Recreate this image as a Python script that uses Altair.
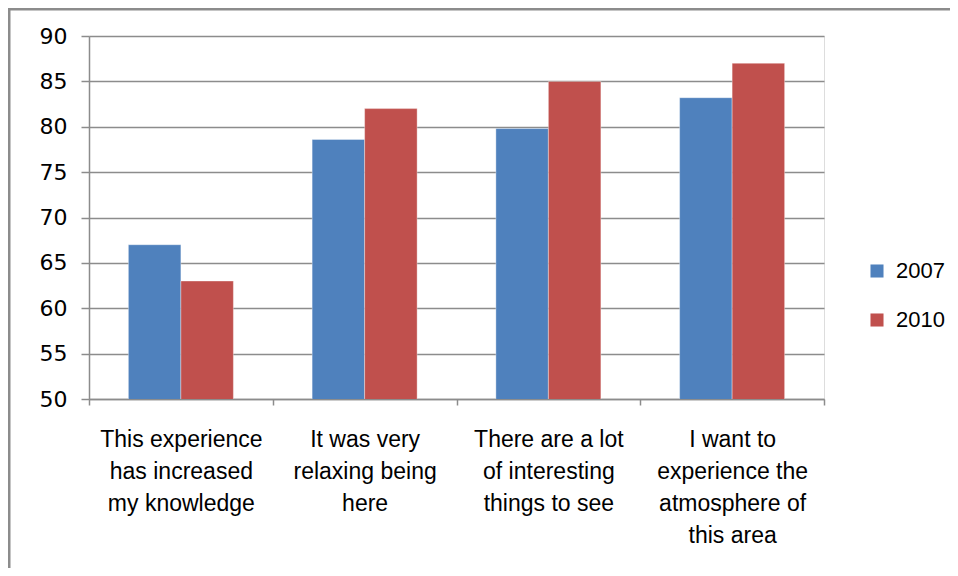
import altair as alt
import pandas as pd

categories = [
    "This experience|has increased|my knowledge",
    "It was very|relaxing being|here",
    "There are a lot|of interesting|things to see",
    "I want to|experience the|atmosphere of|this area",
]
years = ["2007", "2010"]
values_2007 = [67.0, 78.6, 79.8, 83.2]
values_2010 = [63.0, 82.0, 85.0, 87.0]
colors = ["#4F81BD", "#C0504D"]

rows = []
for c, a, b in zip(categories, values_2007, values_2010):
    rows.append({"cat": c, "year": "2007", "value": a})
    rows.append({"cat": c, "year": "2010", "value": b})
df = pd.DataFrame(rows)

W, H = 735, 363
grid = "#8C8C8C"

bars = alt.Chart(df).mark_bar(clip=True, stroke="#ffffff", strokeWidth=0.6, strokeOpacity=0.6).encode(
    x=alt.X("cat:N", sort=categories, title=None,
            scale=alt.Scale(paddingInner=0, paddingOuter=0),
            axis=alt.Axis(labelAngle=0, labelExpr="split(datum.label, '|')",
                          labelFont="Liberation Sans Narrow, Liberation Sans",
                          labelFontSize=23, labelColor="#000000", labelLineHeight=32,
                          labelPadding=23, labelLimit=220,
                          domainColor=grid, domainWidth=1.5,
                          tickColor=grid, tickSize=6, tickWidth=1.5, tickBand="extent",
                          grid=False)),
    xOffset=alt.XOffset("year:N", sort=years,
                        scale=alt.Scale(paddingInner=0, paddingOuter=0.75)),
    y=alt.Y("value:Q", title=None,
            scale=alt.Scale(domain=[50, 90], nice=False, zero=False),
            axis=alt.Axis(values=[50, 55, 60, 65, 70, 75, 80, 85, 90],
                          labelFont="DejaVu Sans", labelFontSize=22, labelColor="#000000",
                          labelPadding=14,
                          domainColor=grid, domainWidth=1.5,
                          tickColor=grid, tickSize=8, tickWidth=1.5,
                          gridColor=grid, gridWidth=1.5)),
    color=alt.Color("year:N", sort=years, title=None,
                    scale=alt.Scale(domain=years, range=colors),
                    legend=alt.Legend(orient="none", legendX=777, legendY=224,
                                      symbolType="square", symbolSize=170,
                                      symbolStrokeWidth=0,
                                      labelFont="Liberation Sans", labelFontSize=22,
                                      labelColor="#000000", labelOffset=8,
                                      rowPadding=27)),
)

frame_left = alt.Chart(pd.DataFrame({"k": [0]})).mark_rule(color="#8C8C8C", strokeWidth=3).encode(
    x=alt.value(-80), y=alt.value(-28), y2=alt.value(H + 200))
frame_top = alt.Chart(pd.DataFrame({"k": [0]})).mark_rule(color="#8C8C8C", strokeWidth=3).encode(
    x=alt.value(-81), x2=alt.value(W + 200), y=alt.value(-27))

chart = alt.layer(bars, frame_left, frame_top).properties(
    width=W, height=H,
    autosize=alt.AutoSizeParams(type="none"),
    padding={"left": 81, "top": 28, "right": 126, "bottom": 169},
).configure_view(stroke=None).configure(background="#ffffff")

chart.save("out.html", embed_options={"renderer": "svg", "actions": False})
